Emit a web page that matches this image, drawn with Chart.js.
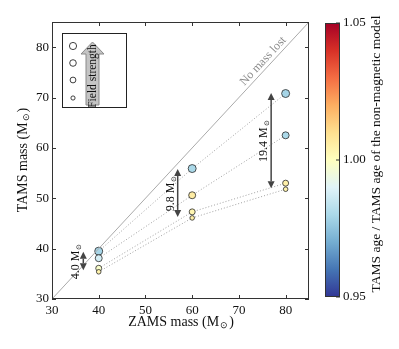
<!DOCTYPE html>
<html>
<head>
<meta charset="utf-8">
<script src="https://cdn.jsdelivr.net/npm/chart.js@4/dist/chart.umd.min.js"></script>
<style>
  body { margin: 0; background: #fff; }
  #wrap { width: 399px; height: 349px; }
</style>
</head>
<body>
<div id="wrap"><canvas id="chart" width="399" height="349"></canvas></div>
<script>
// 数据：ZAMS 质量与各磁场强度下的 TAMS 质量
const zamsMass = [40, 60, 80];
const tamsStrongest = [39.5, 55.9, 70.8];
const tamsStrong = [38.1, 50.6, 62.5];
const tamsWeak = [36.1, 47.3, 53.0];
const tamsWeakest = [35.4, 46.1, 51.8];

// TAMS 年龄 / 无磁模型的 TAMS 年龄
const ageStrongest = [0.979, 0.980, 0.979];
const ageStrong = [0.988, 1.006, 0.980];
const ageWeak = [0.998, 1.003, 1.005];
const ageWeakest = [1.004, 1.005, 1.004];

// 质量损失箭头
const lossLabels = ["4.0", "9.8", "19.4"];
const lossX = [36.7, 56.9, 76.9];
const lossTop = [39.4, 55.8, 70.9];
const lossBottom = [35.7, 46.3, 52.0];

const xTicks = [30, 40, 50, 60, 70, 80];
const yTicks = [30, 40, 50, 60, 70, 80];
const cbarTicks = [0.95, 1.00, 1.05];
const cbarMin = 0.95, cbarMax = 1.05;

const SERIF = '"Liberation Serif", "Times New Roman", serif';

// RdYlBu_r 色图
const cmapStops = ["#313695", "#4575b4", "#74add1", "#abd9e9", "#e0f3f8", "#ffffbf",
  "#fee090", "#fdae61", "#f46d43", "#d73027", "#a50026"];

function hexToRgb(h) {
  return [parseInt(h.slice(1, 3), 16), parseInt(h.slice(3, 5), 16), parseInt(h.slice(5, 7), 16)];
}

function cmap(v) {
  let t = (v - cbarMin) / (cbarMax - cbarMin);
  t = Math.max(0, Math.min(1, t));
  let pos = t * (cmapStops.length - 1);
  let i = Math.min(Math.floor(pos), cmapStops.length - 2);
  let f = pos - i;
  let a = hexToRgb(cmapStops[i]), b = hexToRgb(cmapStops[i + 1]);
  let c = a.map((x, k) => Math.round(x + (b[k] - x) * f));
  return "rgb(" + c.join(",") + ")";
}

function series(ys) {
  return zamsMass.map((x, i) => ({ x: x, y: ys[i] }));
}

function fieldDataset(ys, ages, r) {
  return {
    data: series(ys),
    showLine: true,
    borderColor: "#a0a0a0",
    borderWidth: 1,
    borderDash: [1, 2],
    pointRadius: r,
    pointBackgroundColor: ages.map(cmap),
    pointBorderColor: "#2a2a2a",
    pointBorderWidth: 0.8,
  };
}

// 带下标 ⊙ 的文字
function drawSunText(ctx, main, size, tail) {
  ctx.font = size + "px " + SERIF;
  let w1 = ctx.measureText(main).width;
  ctx.font = (size * 0.62) + "px " + SERIF;
  let w2 = ctx.measureText("⊙").width;
  ctx.font = size + "px " + SERIF;
  let w3 = tail ? ctx.measureText(tail).width : 0;
  let total = w1 + w2 + w3 + 2;
  let x0 = -total / 2;
  ctx.textAlign = "left";
  ctx.textBaseline = "middle";
  ctx.fillText(main, x0, 0);
  ctx.font = (size * 0.62) + "px " + SERIF;
  ctx.fillText("⊙", x0 + w1 + 1, size * 0.25);
  if (tail) {
    ctx.font = size + "px " + SERIF;
    ctx.fillText(tail, x0 + w1 + w2 + 2, 0);
  }
}

function drawArrow(ctx, x, y1, y2) {
  let head = 7, half = 3.5;
  ctx.strokeStyle = "#444";
  ctx.fillStyle = "#444";
  ctx.lineWidth = 1.5;
  ctx.beginPath();
  ctx.moveTo(x, y1 + head);
  ctx.lineTo(x, y2 - head);
  ctx.stroke();
  ctx.beginPath();
  ctx.moveTo(x, y1);
  ctx.lineTo(x - half, y1 + head);
  ctx.lineTo(x + half, y1 + head);
  ctx.closePath();
  ctx.fill();
  ctx.beginPath();
  ctx.moveTo(x, y2);
  ctx.lineTo(x - half, y2 - head);
  ctx.lineTo(x + half, y2 - head);
  ctx.closePath();
  ctx.fill();
}

const decorations = {
  id: "decorations",
  afterDraw(chart) {
    const ctx = chart.ctx;
    const xs = chart.scales.x, ys = chart.scales.y;
    const a = chart.chartArea;
    ctx.save();

    // 边框和朝内的刻度
    ctx.strokeStyle = "#333";
    ctx.lineWidth = 1;
    ctx.strokeRect(a.left + 0.5, a.top + 0.5, a.right - a.left - 1, a.bottom - a.top - 1);
    ctx.beginPath();
    xTicks.forEach(v => {
      let px = Math.round(xs.getPixelForValue(v)) + 0.5;
      ctx.moveTo(px, a.bottom); ctx.lineTo(px, a.bottom - 4);
      ctx.moveTo(px, a.top); ctx.lineTo(px, a.top + 4);
    });
    yTicks.forEach(v => {
      let py = Math.round(ys.getPixelForValue(v)) + 0.5;
      ctx.moveTo(a.left, py); ctx.lineTo(a.left + 4, py);
      ctx.moveTo(a.right, py); ctx.lineTo(a.right - 4, py);
    });
    ctx.stroke();

    // "No mass lost"
    let x1 = xs.getPixelForValue(30), y1 = ys.getPixelForValue(30);
    let x2 = xs.getPixelForValue(85), y2 = ys.getPixelForValue(85);
    let ang = Math.atan2(y2 - y1, x2 - x1);
    ctx.save();
    ctx.translate(xs.getPixelForValue(76.3), ys.getPixelForValue(76.3));
    ctx.rotate(ang);
    ctx.fillStyle = "#8a8a8a";
    ctx.font = "12px " + SERIF;
    ctx.textAlign = "center";
    ctx.textBaseline = "bottom";
    ctx.fillText("No mass lost", 0, -1);
    ctx.restore();

    // 质量损失箭头
    lossLabels.forEach((lab, i) => {
      let px = xs.getPixelForValue(lossX[i]);
      let top = ys.getPixelForValue(lossTop[i]);
      let bot = ys.getPixelForValue(lossBottom[i]);
      drawArrow(ctx, px, top, bot);
      ctx.save();
      ctx.translate(px - 7, (top + bot) / 2);
      ctx.rotate(-Math.PI / 2);
      ctx.fillStyle = "#111";
      drawSunText(ctx, lab + " M", 12);
      ctx.restore();
    });

    // 图例框
    ctx.lineWidth = 1;
    ctx.fillStyle = "#fff";
    ctx.fillRect(62.5, 33.5, 64, 74);
    ctx.strokeStyle = "#222";
    ctx.strokeRect(62.5, 33.5, 64, 74);
    const legY = [46, 63, 80, 98];
    const legR = [3.6, 3.3, 2.9, 2.1];
    ctx.lineWidth = 0.8;
    legY.forEach((y, i) => {
      ctx.beginPath();
      ctx.arc(73, y, legR[i], 0, Math.PI * 2);
      ctx.fillStyle = "#fff";
      ctx.fill();
      ctx.strokeStyle = "#111";
      ctx.stroke();
    });
    // 灰色箭头
    ctx.lineWidth = 1;
    ctx.beginPath();
    ctx.moveTo(86, 105);
    ctx.lineTo(86, 54);
    ctx.lineTo(81, 54);
    ctx.lineTo(92.5, 42);
    ctx.lineTo(104, 54);
    ctx.lineTo(99, 54);
    ctx.lineTo(99, 105);
    ctx.closePath();
    ctx.fillStyle = "#c4c4c4";
    ctx.fill();
    ctx.strokeStyle = "#8a8a8a";
    ctx.stroke();
    ctx.save();
    ctx.translate(93, 76);
    ctx.rotate(-Math.PI / 2);
    ctx.fillStyle = "#111";
    ctx.font = "11.5px " + SERIF;
    ctx.textAlign = "center";
    ctx.textBaseline = "middle";
    ctx.fillText("Field strength", 0, 0);
    ctx.restore();

    // 坐标轴标题
    ctx.fillStyle = "#111";
    ctx.save();
    ctx.translate(181, 322);
    drawSunText(ctx, "ZAMS mass (M", 14, ")");
    ctx.restore();
    ctx.save();
    ctx.translate(23, 160);
    ctx.rotate(-Math.PI / 2);
    drawSunText(ctx, "TAMS mass (M", 14, ")");
    ctx.restore();

    // 色标
    const cbL = 325, cbR = 340, cbT = 23, cbB = 297;
    let grad = ctx.createLinearGradient(0, cbB, 0, cbT);
    cmapStops.forEach((c, i) => grad.addColorStop(i / (cmapStops.length - 1), c));
    ctx.fillStyle = grad;
    ctx.fillRect(cbL, cbT, cbR - cbL, cbB - cbT);
    ctx.strokeStyle = "#333";
    ctx.strokeRect(cbL + 0.5, cbT + 0.5, cbR - cbL - 1, cbB - cbT - 1);
    ctx.fillStyle = "#111";
    ctx.font = "13px " + SERIF;
    ctx.textAlign = "left";
    ctx.textBaseline = "middle";
    cbarTicks.forEach(v => {
      let py = cbB - (v - cbarMin) / (cbarMax - cbarMin) * (cbB - cbT);
      ctx.beginPath();
      ctx.moveTo(cbR - 4, py); ctx.lineTo(cbR, py);
      ctx.stroke();
      ctx.fillText(v.toFixed(2), 343, py);
    });
    ctx.save();
    ctx.translate(376, 154);
    ctx.rotate(-Math.PI / 2);
    ctx.font = "13.5px " + SERIF;
    ctx.textAlign = "center";
    ctx.fillText("TAMS age / TAMS age of the non-magnetic model", 0, 0);
    ctx.restore();

    ctx.restore();
  }
};

let chart = new Chart(document.getElementById("chart"), {
  type: "scatter",
  data: {
    datasets: [
      {
        data: [{ x: 30, y: 30 }, { x: 85, y: 85 }],
        showLine: true,
        borderColor: "#aaaaaa",
        borderWidth: 1,
        pointRadius: 0,
      },
      fieldDataset(tamsWeakest, ageWeakest, 2.3),
      fieldDataset(tamsWeak, ageWeak, 3.0),
      fieldDataset(tamsStrong, ageStrong, 3.5),
      fieldDataset(tamsStrongest, ageStrongest, 4.0),
    ],
  },
  options: {
    responsive: false,
    animation: false,
    layout: { padding: { left: 0, top: 22, right: 90, bottom: 0 } },
    scales: {
      x: {
        type: "linear",
        min: 30,
        max: 85,
        afterBuildTicks: s => { s.ticks = xTicks.map(v => ({ value: v })); },
        afterFit: s => { s.height = 50; },
        grid: { display: false, drawTicks: false },
        border: { display: false },
        ticks: { padding: 4, color: "#111", font: { family: SERIF, size: 13 }, maxRotation: 0 },
      },
      y: {
        type: "linear",
        min: 30,
        max: 85,
        afterBuildTicks: s => { s.ticks = yTicks.map(v => ({ value: v })); },
        afterFit: s => { s.width = 52; },
        grid: { display: false, drawTicks: false },
        border: { display: false },
        ticks: { padding: 3, color: "#111", font: { family: SERIF, size: 13 } },
      },
    },
    plugins: {
      legend: { display: false },
      tooltip: { enabled: false },
    },
  },
  plugins: [decorations],
});
</script>
</body>
</html>
